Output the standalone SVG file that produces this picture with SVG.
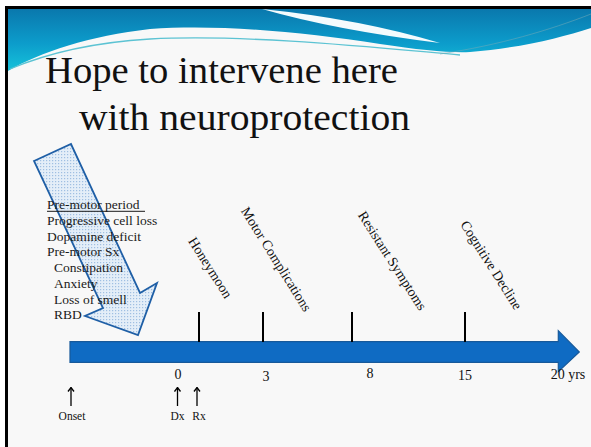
<svg xmlns="http://www.w3.org/2000/svg" width="591" height="447" viewBox="0 0 591 447">
  <style>
    .title { font-family: "Liberation Serif", "Times New Roman", serif; font-size: 38px; fill: #111; }
    .list { font-family: "Liberation Serif", "Times New Roman", serif; font-size: 13.5px; fill: #1a1a1a; }
    .stage { font-family: "Liberation Serif", "Times New Roman", serif; font-size: 14px; fill: #111; }
    .num { font-family: "Liberation Serif", "Times New Roman", serif; font-size: 14px; fill: #111; text-anchor: middle; }
    .small { font-family: "Liberation Serif", "Times New Roman", serif; font-size: 11.5px; fill: #111; text-anchor: middle; }
    .tick { stroke: #000; stroke-width: 2; }
    .up { stroke: #000; stroke-width: 1.3; fill: none; marker-start: url(#uphead); }
  </style>
  <defs>
    <linearGradient id="hdr" x1="0" y1="0" x2="0" y2="1">
      <stop offset="0" stop-color="#0a78ad"/>
      <stop offset="0.55" stop-color="#0c9ccb"/>
      <stop offset="1" stop-color="#16c2da"/>
    </linearGradient>
    <pattern id="dots" width="3" height="3" patternUnits="userSpaceOnUse">
      <rect width="3" height="3" fill="#e4eef8"/>
      <rect x="1" y="1" width="1.2" height="1.2" fill="#9fbfe2"/>
    </pattern>
    <marker id="uphead" markerWidth="8" markerHeight="8" refX="4" refY="1" orient="0" markerUnits="userSpaceOnUse">
      <path d="M1,5 L4,1 L7,5" fill="none" stroke="#000" stroke-width="1.3"/>
    </marker>
  </defs>

  <!-- slide background and frame -->
  <rect x="0" y="0" width="591" height="447" fill="#ffffff"/>
  <rect x="8" y="9" width="583" height="438" fill="#f8f8f8"/>
  <path d="M6.5,447 V7.5 H591" fill="none" stroke="#000" stroke-width="3"/>

  <!-- header wave -->
  <g id="header">
    <path d="M8,9 H591 V28 C560,38 520,48 470,52 C450,53 420,50 380,44 C300,32 220,24 150,29 C90,36 40,52 8,71 Z" fill="url(#hdr)"/>
    <path d="M262,9 Q360,19 440,43 Q335,30 262,9 Z" fill="#f4fbfd"/>
    <path d="M10,69 C50,52 100,42 150,39 C250,34 380,48 460,55" fill="none" stroke="#5cc3d3" stroke-width="1.3"/>
    <path d="M440,54 C500,45 550,30 591,14" fill="none" stroke="#6fa9b8" stroke-width="0.8" opacity="0.7"/>
  </g>

  <!-- title -->
  <g id="title">
    <text class="title" x="45" y="83" textLength="353" lengthAdjust="spacingAndGlyphs">Hope to intervene here</text>
    <text class="title" x="79" y="130" textLength="331" lengthAdjust="spacingAndGlyphs">with neuroprotection</text>
  </g>

  <!-- big hatched arrow -->
  <g id="intervention-arrow">
    <polygon points="34,161 71,144 140,293 157,283 138,335 85,316 103,308" fill="url(#dots)" stroke="#1f5fa6" stroke-width="1.8" stroke-linejoin="miter"/>
  </g>

  <!-- pre-motor list -->
  <g id="premotor-list">
    <text class="list" x="47" y="209.3">Pre-motor period</text>
    <line x1="47" y1="211.3" x2="145" y2="211.3" stroke="#1a1a1a" stroke-width="1"/>
    <text class="list" x="47" y="225">Progressive cell loss</text>
    <text class="list" x="47" y="240.7">Dopamine deficit</text>
    <text class="list" x="47" y="256.4">Pre-motor Sx</text>
    <text class="list" x="54" y="272.1">Constipation</text>
    <text class="list" x="54" y="287.8">Anxiety</text>
    <text class="list" x="54" y="303.5">Loss of smell</text>
    <text class="list" x="54" y="319.2">RBD</text>
  </g>

  <!-- stage labels -->
  <g id="stage-honeymoon"><text class="stage" text-anchor="middle" dy="0.35em" transform="translate(210.5,267.5) rotate(57.5)">Honeymoon</text></g>
  <g id="stage-motor"><text class="stage" text-anchor="middle" dy="0.35em" transform="translate(276.5,259) rotate(58)">Motor Complications</text></g>
  <g id="stage-resistant"><text class="stage" text-anchor="middle" dy="0.35em" transform="translate(392.5,260.5) rotate(57.3)">Resistant Symptoms</text></g>
  <g id="stage-cognitive"><text class="stage" text-anchor="middle" dy="0.35em" transform="translate(491.5,265) rotate(57.6)">Cognitive Decline</text></g>

  <!-- timeline arrow -->
  <g id="timeline">
    <path d="M70,341.7 H558.3 V330.7 L579.3,352 L558.3,371.7 V362.3 H70 Z" fill="#0f6bc3" stroke="#17599a" stroke-width="1.2"/>
  </g>

  <!-- connectors: ticks and marker arrows -->
  <g id="connectors">
    <line class="tick" x1="199" y1="312" x2="199" y2="342"/>
    <line class="tick" x1="263" y1="312" x2="263" y2="342"/>
    <line class="tick" x1="352" y1="312" x2="352" y2="342"/>
    <line class="tick" x1="465" y1="312" x2="465" y2="342"/>
    <line class="up" x1="71" y1="387.5" x2="71" y2="406"/>
    <line class="up" x1="177.5" y1="387.5" x2="177.5" y2="406"/>
    <line class="up" x1="197" y1="387.5" x2="197" y2="406"/>
  </g>

  <!-- year labels -->
  <g id="years">
    <text class="num" x="178" y="379">0</text>
    <text class="num" x="266" y="381">3</text>
    <text class="num" x="370" y="378">8</text>
    <text class="num" x="465" y="380">15</text>
    <text class="num" x="568" y="379">20 yrs</text>
  </g>

  <!-- event labels -->
  <g id="events">
    <text class="small" x="72" y="420">Onset</text>
    <text class="small" x="177.5" y="420">Dx</text>
    <text class="small" x="199" y="420">Rx</text>
  </g>
</svg>
